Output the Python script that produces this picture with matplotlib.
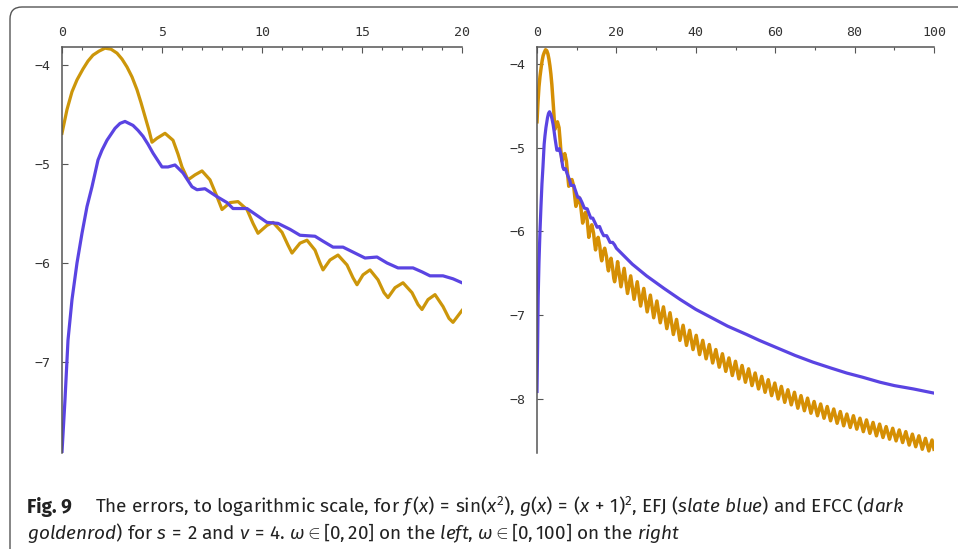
import matplotlib
matplotlib.use("Agg")
import matplotlib.pyplot as plt
from matplotlib.patches import FancyBboxPatch
from matplotlib.ticker import MultipleLocator

# EFJ (slate blue) and EFCC (dark goldenrod), log10 of the error, omega in [0, 20]
efj_x = [0.0, 0.15, 0.3, 0.5, 0.75, 1.0, 1.25, 1.5, 1.8, 2.0, 2.25, 2.65, 2.9, 3.15,
         3.55, 3.8, 4.05, 4.3, 4.55, 5.0, 5.3, 5.65, 6.05, 6.5, 6.75, 7.15, 7.75, 8.25,
         8.55, 9.25, 9.75, 10.25, 10.8, 11.4, 11.9, 12.65, 13.05, 13.55, 14.05, 14.55,
         15.15, 15.75, 16.25, 16.8, 17.55, 18.0, 18.4, 19.05, 19.55, 20.0]
efj_y = [-7.91, -7.38, -6.78, -6.37, -6.0, -5.70, -5.43, -5.23, -4.96, -4.86, -4.76,
         -4.64, -4.59, -4.57, -4.61, -4.66, -4.72, -4.80, -4.89, -5.03, -5.03, -5.01,
         -5.09, -5.23, -5.26, -5.25, -5.33, -5.39, -5.45, -5.45, -5.52, -5.59, -5.60,
         -5.66, -5.72, -5.73, -5.78, -5.84, -5.84, -5.89, -5.95, -5.94, -6.0, -6.05,
         -6.05, -6.09, -6.13, -6.13, -6.16, -6.20]
efcc_x = [0.0, 0.25, 0.5, 0.75, 1.05, 1.3, 1.55, 1.85, 2.15, 2.45, 2.75, 3.0, 3.25,
          3.5, 3.75, 3.95, 4.15, 4.35, 4.5, 4.75, 5.15, 5.55, 5.8, 6.0, 6.3, 6.65,
          7.0, 7.4, 7.75, 8.0, 8.4, 8.8, 9.25, 9.55, 9.8, 10.25, 10.55, 11.0, 11.3,
          11.5, 11.9, 12.25, 12.65, 12.9, 13.05, 13.4, 13.8, 14.25, 14.55, 14.75,
          15.05, 15.4, 15.8, 16.1, 16.3, 16.65, 17.05, 17.5, 17.8, 18.0, 18.3, 18.65,
          19.05, 19.35, 19.55, 20.0]
efcc_y = [-4.69, -4.45, -4.27, -4.15, -4.04, -3.96, -3.90, -3.86, -3.83, -3.84, -3.88,
          -3.94, -4.02, -4.12, -4.25, -4.38, -4.52, -4.66, -4.78, -4.74, -4.69, -4.76,
          -4.90, -5.03, -5.16, -5.11, -5.07, -5.16, -5.33, -5.46, -5.39, -5.38, -5.46,
          -5.60, -5.70, -5.62, -5.59, -5.69, -5.82, -5.90, -5.80, -5.77, -5.87, -6.00,
          -6.07, -5.97, -5.92, -6.02, -6.15, -6.22, -6.12, -6.07, -6.17, -6.30, -6.35,
          -6.25, -6.20, -6.30, -6.42, -6.47, -6.37, -6.32, -6.44, -6.56, -6.60, -6.48]

# continuation for omega in (20, 100]
efj_x_far = [24, 27.6, 32, 36, 40, 44.4, 48, 52.8, 56, 61, 65, 69.5, 74, 78, 82,
             86.4, 90, 94.8, 100]
efj_y_far = [-6.39, -6.53, -6.68, -6.81, -6.93, -7.04, -7.13, -7.23, -7.30, -7.40,
             -7.48, -7.56, -7.63, -7.69, -7.74, -7.80, -7.84, -7.88, -7.93]
efcc_x_far = [20.30, 21.15, 21.95, 22.80, 23.60, 24.45, 25.25, 26.10, 26.90, 27.75,
              28.55, 29.40, 30.20, 31.05, 31.85, 32.70, 33.50, 34.35, 35.15, 36.00,
              36.80, 37.65, 38.45, 39.30, 40.10, 40.95, 41.75, 42.60, 43.40, 44.25,
              45.05, 45.90, 46.70, 47.55, 48.35, 49.20, 50.00, 50.85, 51.65, 52.50,
              53.30, 54.15, 54.95, 55.80, 56.60, 57.45, 58.25, 59.10, 59.90, 60.75,
              61.55, 62.40, 63.20, 64.05, 64.85, 65.70, 66.50, 67.35, 68.15, 69.00,
              69.80, 70.65, 71.45, 72.30, 73.10, 73.95, 74.75, 75.60, 76.40, 77.25,
              78.05, 78.90, 79.70, 80.55, 81.35, 82.20, 83.00, 83.85, 84.65, 85.50,
              86.30, 87.15, 87.95, 88.80, 89.60, 90.45, 91.25, 92.10, 92.90, 93.75,
              94.55, 95.40, 96.20, 97.05, 97.85, 98.70, 99.50, 100.0]
efcc_y_far = [-6.36, -6.66, -6.44, -6.74, -6.53, -6.81, -6.60, -6.89, -6.68, -6.96,
              -6.76, -7.03, -6.83, -7.09, -6.90, -7.16, -6.97, -7.23, -7.05, -7.30,
              -7.12, -7.36, -7.18, -7.41, -7.24, -7.47, -7.30, -7.52, -7.35, -7.57,
              -7.41, -7.62, -7.46, -7.67, -7.51, -7.72, -7.55, -7.76, -7.60, -7.80,
              -7.64, -7.84, -7.69, -7.88, -7.73, -7.92, -7.77, -7.96, -7.81, -8.00,
              -7.85, -8.04, -7.89, -8.07, -7.92, -8.11, -7.96, -8.14, -7.99, -8.17,
              -8.03, -8.20, -8.06, -8.23, -8.09, -8.26, -8.12, -8.29, -8.15, -8.32,
              -8.18, -8.34, -8.20, -8.36, -8.23, -8.39, -8.25, -8.41, -8.28, -8.44,
              -8.30, -8.46, -8.33, -8.48, -8.35, -8.50, -8.37, -8.52, -8.39, -8.55,
              -8.42, -8.57, -8.44, -8.60, -8.47, -8.62, -8.49, -8.60]

left_xticks = [0, 5, 10, 15, 20]
right_xticks = [0, 20, 40, 60, 80, 100]
left_yticks = [-4, -5, -6, -7]
right_yticks = [-4, -5, -6, -7, -8]

blue = "#5a44e2"
gold = "#cc960a"
gold_far = "#d58f04"
axis_col = "#555555"
cap_font = "Fira Sans"
cap_size = 13.7

plt.rcParams["mathtext.fontset"] = "custom"
plt.rcParams["mathtext.rm"] = cap_font
plt.rcParams["mathtext.it"] = cap_font + ":italic"
plt.rcParams["mathtext.bf"] = cap_font + ":bold"

fig = plt.figure(figsize=(9.58, 5.49), dpi=100)
W, H = 958.0, 549.0

# rounded frame, cut off at right and bottom
frame = FancyBboxPatch((10, -30), 990, 572, boxstyle="round,pad=0,rounding_size=12",
                       transform=None, fill=False, edgecolor="#555555", linewidth=1.0)
fig.patches.append(frame)


def style_axes(ax, xmax, xticks, yticks, ylim, xminor):
    ax.set_xlim(0, xmax)
    ax.set_ylim(*ylim)
    for s in ["right", "bottom"]:
        ax.spines[s].set_visible(False)
    for s in ["top", "left"]:
        ax.spines[s].set_color(axis_col)
        ax.spines[s].set_linewidth(1.1)
    ax.xaxis.tick_top()
    ax.set_xticks(xticks)
    ax.set_yticks(yticks)
    ax.xaxis.set_minor_locator(MultipleLocator(xminor))
    ax.tick_params(which="both", direction="in", color=axis_col, width=0.8)
    ax.tick_params(which="major", length=4)
    ax.tick_params(which="minor", length=2)
    ax.tick_params(axis="x", which="major", pad=6, labelsize=9.5, labelcolor="#333333")
    ax.tick_params(axis="y", which="major", pad=8, labelsize=9.5, labelcolor="#333333")
    for lab in ax.get_xticklabels() + ax.get_yticklabels():
        lab.set_fontfamily("DejaVu Sans Mono")
    ax.patch.set_alpha(0)


ax1 = fig.add_axes([62 / W, 1 - 453 / H, 400 / W, 406 / H])
ax1.plot(efcc_x, efcc_y, color=gold, lw=2.3, solid_joinstyle="round")
ax1.plot(efj_x, efj_y, color=blue, lw=2.3, solid_joinstyle="round")
style_axes(ax1, 20, left_xticks, left_yticks, (-7.92, -3.818), 1)

ax2 = fig.add_axes([537 / W, 1 - 453 / H, 397 / W, 406 / H])
ax2.plot(efcc_x + efcc_x_far, efcc_y + efcc_y_far, color=gold_far, lw=2.5,
         solid_joinstyle="round")
ax2.plot(efj_x + efj_x_far, efj_y + efj_y_far, color=blue, lw=2.3, solid_joinstyle="round")
style_axes(ax2, 100, right_xticks, right_yticks, (-8.645, -3.797), 10)

# caption
fig.text(27 / W, 1 - 507 / H, "Fig. 9", fontsize=cap_size, fontweight="bold",
         family=cap_font, va="center", color="#222222")
fig.text(95 / W, 1 - 507 / H,
         r"The errors, to logarithmic scale, for $f\,(x) \,=\, \mathrm{sin}(x^2)$, "
         r"$g(x) \,=\, (x \,+\, 1)^2$, EFJ ($\mathit{slate\ blue}$) and EFCC ($\mathit{dark}$",
         fontsize=cap_size, family=cap_font, va="center", color="#222222")
fig.text(27 / W, 1 - 533 / H,
         r"$\mathit{goldenrod}$) for $s \,=\, 2$ and $\nu \,=\, 4$. $\omega \in [0, 20]$ on the "
         r"$\mathit{left}$, $\omega \in [0, 100]$ on the $\mathit{right}$",
         fontsize=cap_size, family=cap_font, va="center", color="#222222")

fig.savefig("out.png", dpi=100)
